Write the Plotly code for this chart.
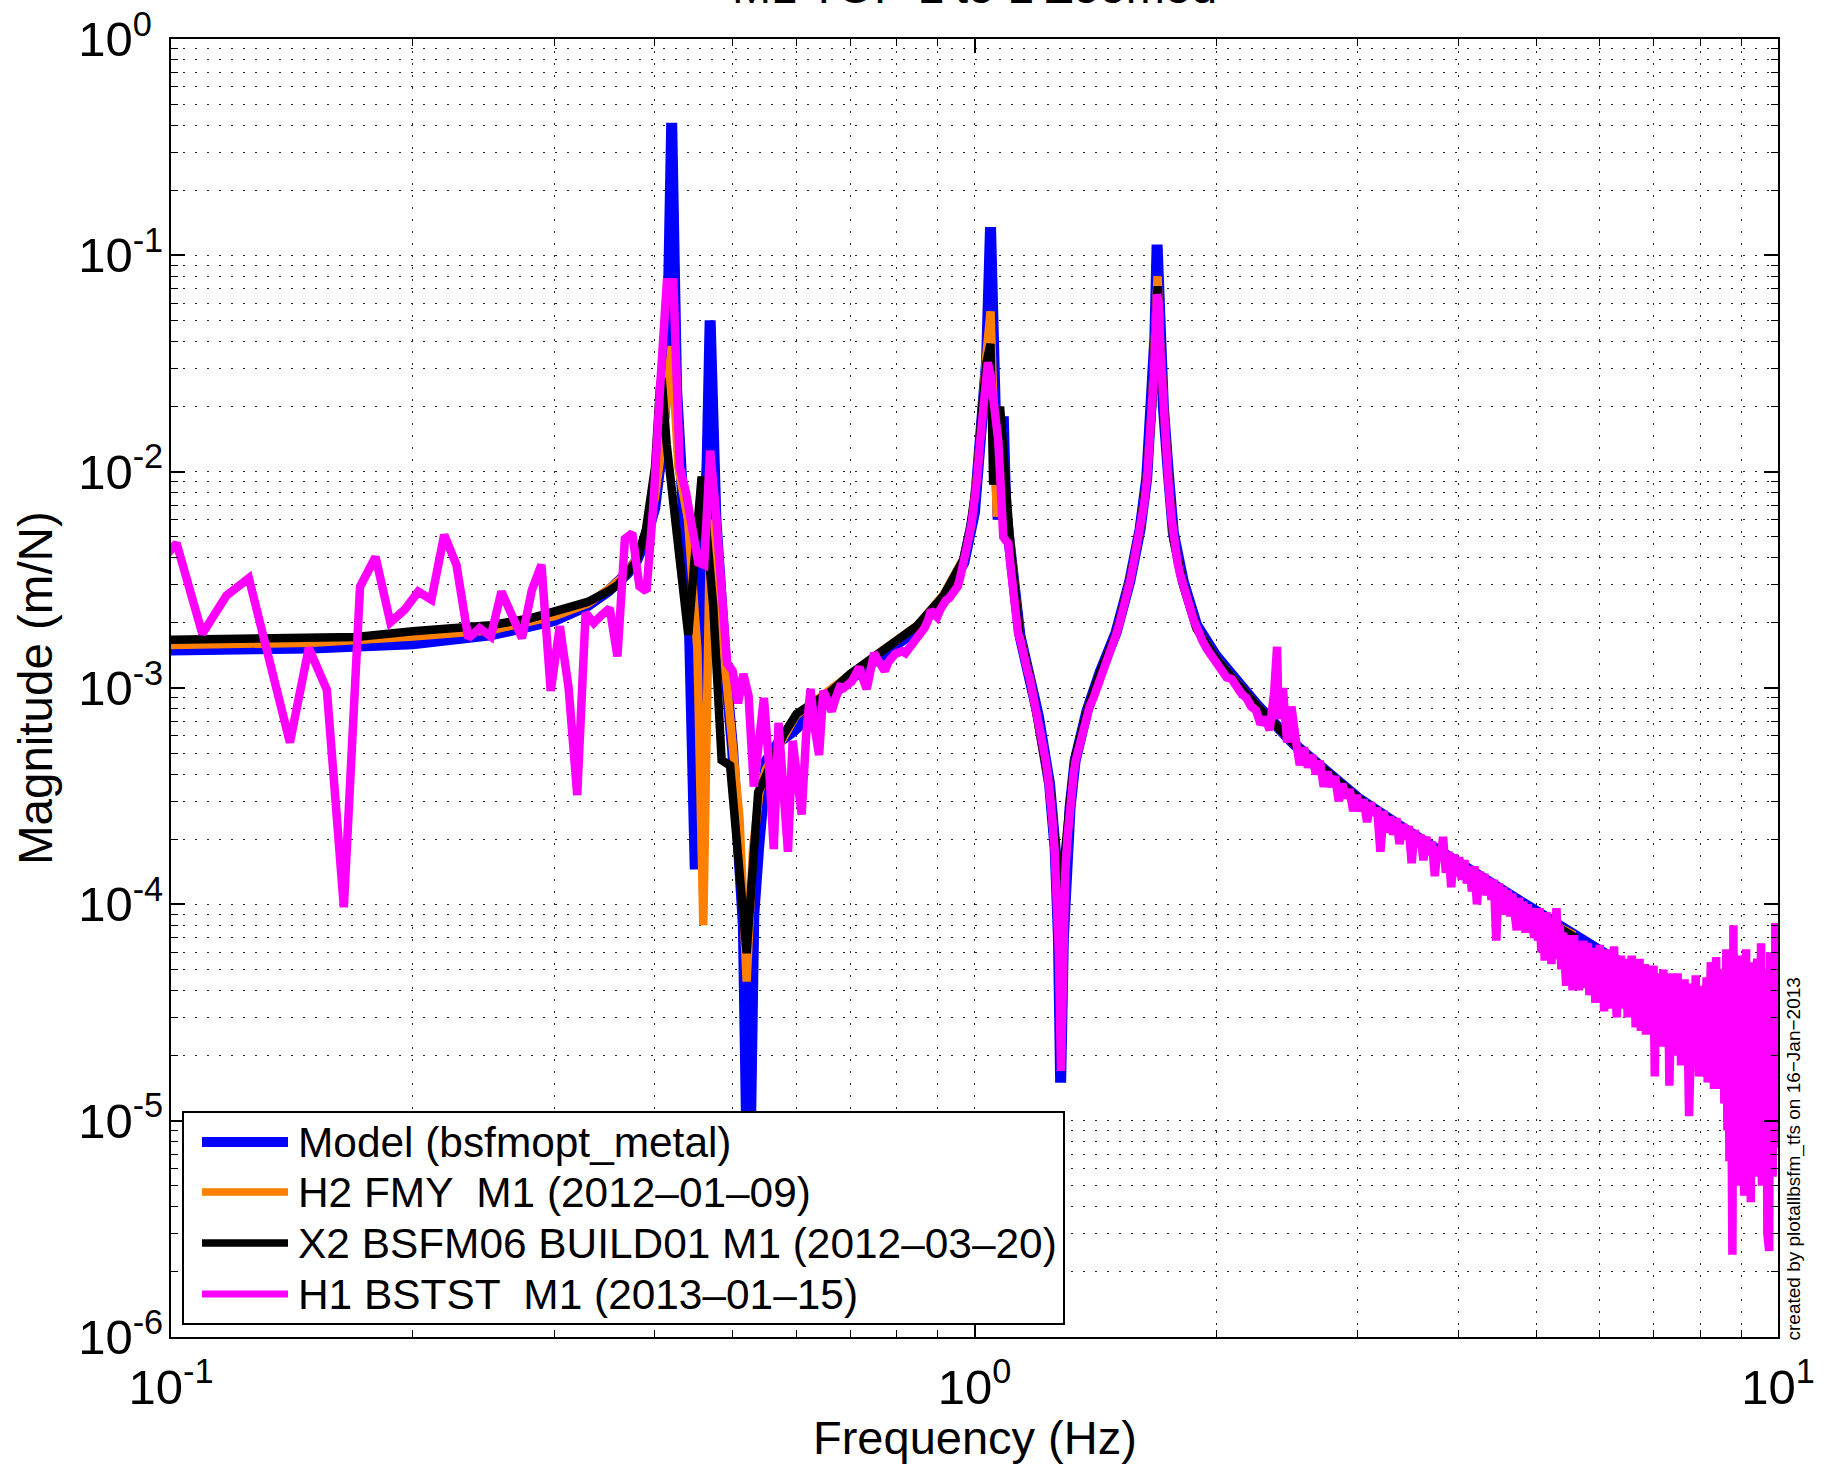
import plotly.graph_objects as go

# ---------------- data ----------------
model_freq = [0.1, 0.15, 0.2, 0.25, 0.3, 0.33, 0.35, 0.37, 0.38, 0.39, 0.40, 0.4063, 0.4141,
              0.4199, 0.4258, 0.4336, 0.4414, 0.4492, 0.457, 0.4648, 0.4688, 0.4766, 0.4844,
              0.4922, 0.5, 0.5078, 0.5156, 0.5234, 0.5313, 0.5391, 0.5508, 0.5703, 0.5948,
              0.65, 0.7, 0.77, 0.85, 0.915, 0.97, 1.0, 1.02, 1.035, 1.047, 1.055, 1.0625,
              1.07, 1.078, 1.086, 1.094, 1.107, 1.139, 1.172, 1.2, 1.24, 1.26, 1.272, 1.28,
              1.29, 1.3, 1.315, 1.334, 1.38, 1.433, 1.5, 1.56, 1.607, 1.638, 1.662, 1.677,
              1.6875, 1.702, 1.718, 1.743, 1.768, 1.819, 1.89, 2.0, 2.1, 2.25, 2.5, 2.75,
              3.0, 3.5, 4.0, 4.5, 5.0, 5.5, 6.0, 7.0, 8.0, 9.0, 10.0]
model_mag = [1.5e-3, 1.53e-3, 1.6e-3, 1.76e-3, 2.05e-3, 2.4e-3, 2.8e-3, 3.4e-3, 3.9e-3, 4.9e-3,
             6.8e-3, 1.1e-2, 2.6e-2, 0.41, 2.4e-2, 7e-3, 2.2e-3, 1.45e-4, 2.5e-3, 1.1e-2, 0.05,
             6e-3, 2.2e-3, 1.0e-3, 5.2e-4, 2.4e-4, 8e-5, 2.5e-6, 9e-5, 1.9e-4, 4.6e-4, 5.6e-4,
             6.3e-4, 8.6e-4, 1.1e-3, 1.43e-3, 1.88e-3, 2.6e-3, 3.8e-3, 6.5e-3, 1.5e-2, 3.2e-2,
             0.135, 2.5e-2, 8e-3, 6e-3, 9e-3, 1.8e-2, 6.5e-3, 4.6e-3, 1.75e-3, 1.1e-3, 7.5e-4,
             3.6e-4, 1.8e-4, 7e-5, 1.5e-5, 7e-5, 1.4e-4, 2.8e-4, 4.6e-4, 7.8e-4, 1.18e-3, 1.8e-3,
             3.1e-3, 5.4e-3, 9.3e-3, 0.019, 0.042, 0.112, 0.045, 0.02, 9.8e-3, 5.2e-3, 3.1e-3,
             1.95e-3, 1.4e-3, 1.12e-3, 8.3e-4, 5.5e-4, 4.0e-4, 3.1e-4, 2.12e-4, 1.56e-4, 1.18e-4,
             9.2e-5, 7.4e-5, 6.1e-5, 4.4e-5, 3.3e-5, 2.6e-5, 2.1e-5]

h2_freq = [0.1, 0.15, 0.2, 0.25, 0.3, 0.33, 0.35, 0.37, 0.38, 0.39, 0.40, 0.41, 0.4199, 0.428,
           0.44, 0.452, 0.4597, 0.469, 0.477, 0.49, 0.5, 0.51, 0.5205, 0.53, 0.54, 0.55, 0.6,
           0.66, 0.7, 0.77, 0.85, 0.915, 0.97, 0.99, 1.007, 1.021, 1.035, 1.047, 1.055, 1.066,
           1.08, 1.094, 1.107, 1.139, 1.172, 1.24, 1.265, 1.28, 1.295, 1.315, 1.334, 1.38,
           1.433, 1.503, 1.562, 1.607, 1.638, 1.662, 1.677, 1.69, 1.702, 1.718, 1.743, 1.768,
           1.819, 1.89, 2.0, 2.1, 2.25, 2.5, 3.0, 3.5, 4.0, 4.5, 5.0, 5.58]
h2_mag = [1.58e-3, 1.62e-3, 1.73e-3, 1.85e-3, 2.15e-3, 2.45e-3, 2.85e-3, 3.4e-3, 4.0e-3, 5.2e-3,
          7.5e-3, 1.5e-2, 0.038, 1.05e-2, 6e-3, 1.5e-3, 8e-5, 6e-3, 3.5e-3, 1.2e-3, 6e-4,
          2.5e-4, 4.4e-5, 1.8e-4, 3.3e-4, 4.2e-4, 7.5e-4, 9.8e-4, 1.18e-3, 1.5e-3, 1.95e-3,
          2.7e-3, 4.0e-3, 5.6e-3, 9.5e-3, 0.02, 0.035, 0.055, 0.02, 6.2e-3, 1.2e-2, 6.5e-3,
          4.8e-3, 1.75e-3, 1.12e-3, 3.5e-4, 1.5e-4, 6e-5, 1.5e-4, 2.9e-4, 4.7e-4, 7.8e-4,
          1.17e-3, 1.82e-3, 3.2e-3, 5.4e-3, 9.3e-3, 0.019, 0.04, 0.08, 0.039, 0.019, 9.3e-3,
          4.9e-3, 3.0e-3, 1.88e-3, 1.36e-3, 1.1e-3, 8.2e-4, 5.5e-4, 3.05e-4, 2.08e-4, 1.53e-4,
          1.15e-4, 8.9e-5, 7.2e-5]

x2_freq = [0.1, 0.12, 0.15, 0.17, 0.2, 0.25, 0.28, 0.3, 0.33, 0.35, 0.36, 0.37, 0.38, 0.39,
           0.3946, 0.4003, 0.406, 0.408, 0.414, 0.425, 0.4403, 0.4575, 0.465, 0.473, 0.4845,
           0.4964, 0.5205, 0.538, 0.5485, 0.578, 0.6006, 0.661, 0.7, 0.77, 0.847, 0.915, 0.968,
           0.987, 1.007, 1.021, 1.035, 1.047, 1.055, 1.076, 1.107, 1.139, 1.172, 1.24, 1.28,
           1.315, 1.334, 1.38, 1.433, 1.503, 1.562, 1.607, 1.638, 1.662, 1.677, 1.69, 1.702,
           1.718, 1.743, 1.768, 1.819, 1.89, 2.0, 2.1, 2.25, 2.5, 3.0, 3.5, 4.0, 4.5, 5.0, 5.6]
x2_mag = [1.67e-3, 1.7e-3, 1.73e-3, 1.72e-3, 1.83e-3, 1.95e-3, 2.1e-3, 2.26e-3, 2.5e-3, 2.8e-3,
          3.0e-3, 3.4e-3, 3.9e-3, 5.4e-3, 7.9e-3, 1.05e-2, 2.46e-2, 2.7e-2, 1.33e-2, 5.5e-3,
          1.76e-3, 9.5e-3, 5e-3, 2.38e-3, 4.64e-4, 4.38e-4, 5.95e-5, 3.3e-4, 3.83e-4, 6.06e-4,
          7.6e-4, 9.57e-4, 1.16e-3, 1.48e-3, 1.93e-3, 2.67e-3, 3.9e-3, 5.4e-3, 9.2e-3, 0.019,
          0.032, 0.039, 8.7e-3, 0.02, 4.83e-3, 1.75e-3, 1.12e-3, 3.5e-4, 1.1e-4, 3e-4, 4.8e-4,
          7.8e-4, 1.18e-3, 1.82e-3, 3.2e-3, 5.4e-3, 9.3e-3, 0.019, 0.04, 0.072, 0.038, 0.019,
          9.2e-3, 4.9e-3, 3.0e-3, 1.88e-3, 1.36e-3, 1.1e-3, 8.2e-4, 5.5e-4, 3.1e-4, 2.1e-4,
          1.55e-4, 1.17e-4, 9.0e-5, 7.0e-5]

h1_freq_low = [0.0938, 0.1016, 0.1094, 0.1172, 0.125, 0.1328, 0.1406, 0.1484, 0.1563, 0.1641,
               0.1719, 0.1797, 0.1875, 0.1953, 0.2031, 0.2109, 0.2188, 0.2266, 0.2344, 0.2422,
               0.25, 0.2578, 0.2656, 0.2734, 0.2813, 0.2891, 0.2969, 0.3047, 0.3125, 0.3203,
               0.3281, 0.3359, 0.3438, 0.3516, 0.3594, 0.3672, 0.375, 0.3828, 0.3906, 0.3984,
               0.4063, 0.4141, 0.4219, 0.4297, 0.4375, 0.4453, 0.4531, 0.4609, 0.4688, 0.4766,
               0.4844, 0.4922, 0.5, 0.5078, 0.5156, 0.5234, 0.5313, 0.5391, 0.5469, 0.5547,
               0.5625, 0.5703, 0.5781, 0.5859, 0.5938, 0.6016, 0.6094, 0.6172, 0.625, 0.6328,
               0.6406, 0.6484, 0.6563, 0.6641, 0.6719, 0.6797, 0.6875, 0.6953, 0.7031, 0.7109,
               0.7188, 0.7266, 0.7344, 0.7422, 0.75, 0.7578, 0.7656, 0.7734, 0.7813, 0.7891,
               0.7969, 0.8047, 0.8125, 0.8203, 0.8281, 0.8359, 0.8438, 0.8516, 0.8594, 0.8672,
               0.875, 0.8828, 0.8906, 0.8984, 0.9063, 0.9141, 0.9219, 0.9297, 0.9375, 0.9453,
               0.9531, 0.9609, 0.9688, 0.9766, 0.9844, 0.9922, 1.0, 1.0078, 1.0156, 1.0234,
               1.0313, 1.0391, 1.0469, 1.0547, 1.0625, 1.0703, 1.0781, 1.0859, 1.0938, 1.1016,
               1.1094, 1.1172, 1.125, 1.1328, 1.1406, 1.1484, 1.1563, 1.1641, 1.1719, 1.1797,
               1.1875, 1.1953, 1.2031, 1.2109, 1.2188, 1.2266, 1.2344, 1.2422, 1.25, 1.2578,
               1.2656, 1.2734, 1.2813, 1.2891, 1.2969, 1.3047, 1.3125, 1.3203, 1.3281, 1.3359,
               1.3438, 1.3516, 1.3594, 1.3672, 1.375, 1.3828, 1.3906, 1.4063, 1.4219, 1.4375,
               1.4531, 1.4688, 1.4844, 1.5, 1.5156, 1.5313, 1.5469, 1.5625, 1.5781, 1.5938,
               1.6094, 1.625, 1.6406, 1.6563, 1.6641, 1.6719, 1.6797, 1.6875, 1.6953, 1.7031,
               1.7109, 1.7188, 1.7266, 1.7344, 1.7422, 1.7578, 1.7734, 1.7891, 1.8047, 1.8203,
               1.8359, 1.8516, 1.875, 1.8984, 1.9219, 1.9453, 1.9688]
h1_mag_low = [3.3e-3, 4.67e-3, 1.78e-3, 2.67e-3, 3.22e-3, 1.3e-3, 5.6e-4, 1.53e-3, 9.8e-4, 9.7e-5,
              2.94e-3, 4.03e-3, 2.01e-3, 2.3e-3, 2.79e-3, 2.56e-3, 5.1e-3, 3.71e-3, 1.7e-3, 1.89e-3,
              1.73e-3, 2.79e-3, 2.22e-3, 1.7e-3, 2.84e-3, 3.71e-3, 9.7e-4, 1.93e-3, 1.0e-3, 3.2e-4,
              2.22e-3, 2.0e-3, 2.18e-3, 2.34e-3, 1.4e-3, 4.89e-3, 5.2e-3, 2.95e-3, 2.8e-3, 7.0e-3,
              2.5e-2, 7.5e-2, 7.5e-2, 1.05e-2, 8.0e-3, 5.5e-3, 3.8e-3, 3.7e-3, 1.25e-2, 6.5e-3,
              2.5e-3, 1.3e-3, 1.2e-3, 8.5e-4, 1.16e-3, 9.2e-4, 3.5e-4, 6.0e-4, 9.0e-4, 4.5e-4,
              1.8e-4, 6.9e-4, 3.5e-4, 1.75e-4, 5.7e-4, 4.0e-4, 2.6e-4, 6.0e-4, 9.9e-4, 6.5e-4,
              4.9e-4, 9.7e-4, 8.5e-4, 7.8e-4, 9.0e-4, 1.01e-3, 1.0e-3, 1.03e-3, 1.07e-3, 1.15e-3,
              1.25e-3, 1.1e-3, 9.9e-4, 1.2e-3, 1.45e-3, 1.35e-3, 1.25e-3, 1.2e-3, 1.32e-3, 1.4e-3,
              1.44e-3, 1.46e-3, 1.48e-3, 1.45e-3, 1.52e-3, 1.57e-3, 1.62e-3, 1.72e-3, 1.8e-3, 1.9e-3,
              2.05e-3, 2.29e-3, 2.2e-3, 2.13e-3, 2.3e-3, 2.45e-3, 2.55e-3, 2.6e-3, 2.7e-3, 2.82e-3,
              2.95e-3, 3.3e-3, 3.7e-3, 4.1e-3, 5.0e-3, 5.9e-3, 7.2e-3, 9.3e-3, 1.35e-2, 1.95e-2,
              2.8e-2, 3.2e-2, 2.8e-2, 2.2e-2, 1.9e-2, 1.4e-2, 8.5e-3, 5.0e-3, 4.8e-3, 4.66e-3,
              3.6e-3, 2.7e-3, 2.1e-3, 1.8e-3, 1.66e-3, 1.45e-3, 1.3e-3, 1.2e-3, 1.1e-3, 9.8e-4,
              8.7e-4, 7.8e-4, 6.9e-4, 6.2e-4, 5.3e-4, 4.6e-4, 3.9e-4, 3.3e-4, 2.5e-4, 1.8e-4,
              1.2e-4, 6.0e-5, 1.7e-5, 7.0e-5, 1.4e-4, 2.0e-4, 2.7e-4, 3.3e-4, 4.0e-4, 4.6e-4,
              5.0e-4, 5.5e-4, 6.0e-4, 6.6e-4, 7.2e-4, 7.7e-4, 8.2e-4, 9.0e-4, 1.0e-3, 1.12e-3,
              1.25e-3, 1.4e-3, 1.58e-3, 1.76e-3, 2.0e-3, 2.3e-3, 2.7e-3, 3.15e-3, 3.8e-3, 4.6e-3,
              5.6e-3, 7.0e-3, 9.5e-3, 1.5e-2, 2.0e-2, 2.8e-2, 4.4e-2, 6.6e-2, 6.0e-2, 3.7e-2,
              2.6e-2, 1.9e-2, 1.45e-2, 1.15e-2, 9.2e-3, 6.2e-3, 4.5e-3, 3.8e-3, 3.3e-3, 2.9e-3,
              2.6e-3, 2.4e-3, 2.05e-3, 1.8e-3, 1.65e-3, 1.52e-3, 1.42e-3]

# H1 BSTST above 2 Hz, as (frequency, magnitude) pairs
h1_high_points = [
    (2.00, 1.30e-3), (2.03, 1.24e-3), (2.06, 1.12e-3), (2.09, 1.10e-3), (2.12, 1.00e-3),
    (2.15, 9.4e-4), (2.18, 9.0e-4), (2.21, 8.2e-4), (2.24, 7.9e-4), (2.27, 6.8e-4),
    (2.30, 7.3e-4), (2.33, 6.4e-4), (2.36, 9.5e-4), (2.38, 1.55e-3), (2.39, 7.2e-4),
    (2.42, 1.0e-3), (2.45, 5.6e-4), (2.48, 8.2e-4), (2.51, 5.8e-4), (2.54, 4.4e-4),
    (2.57, 5.3e-4), (2.60, 4.3e-4), (2.63, 4.9e-4), (2.66, 4.0e-4), (2.69, 4.6e-4),
    (2.72, 3.5e-4), (2.75, 4.1e-4), (2.78, 3.5e-4), (2.81, 3.9e-4), (2.84, 3.0e-4),
    (2.87, 3.6e-4), (2.90, 3.1e-4), (2.93, 3.4e-4), (2.96, 2.7e-4), (2.99, 3.2e-4),
    (3.02, 2.7e-4), (3.05, 3.05e-4), (3.08, 2.4e-4), (3.11, 2.95e-4), (3.14, 2.6e-4),
    (3.17, 2.8e-4), (3.20, 1.75e-4), (3.23, 2.7e-4), (3.26, 2.15e-4), (3.29, 2.55e-4),
    (3.32, 2.1e-4), (3.35, 2.5e-4), (3.38, 1.9e-4), (3.41, 2.35e-4), (3.44, 2.0e-4),
    (3.47, 2.3e-4), (3.50, 1.55e-4), (3.53, 2.2e-4), (3.56, 1.85e-4), (3.59, 2.1e-4),
    (3.62, 1.6e-4), (3.65, 2.05e-4), (3.68, 1.7e-4), (3.71, 1.95e-4), (3.74, 1.35e-4),
    (3.77, 1.85e-4), (3.80, 1.6e-4), (3.83, 2.05e-4), (3.86, 1.4e-4), (3.89, 1.75e-4),
    (3.92, 1.2e-4), (3.95, 1.7e-4), (3.98, 1.35e-4), (4.01, 1.65e-4), (4.04, 1.3e-4),
    (4.07, 1.6e-4), (4.10, 1.25e-4), (4.13, 1.5e-4), (4.16, 1.15e-4), (4.19, 1.5e-4),
    (4.22, 1.0e-4), (4.25, 1.42e-4), (4.28, 1.12e-4), (4.31, 1.38e-4), (4.34, 1.1e-4),
    (4.37, 1.32e-4), (4.40, 1.05e-4), (4.43, 1.3e-4), (4.46, 6.8e-5), (4.49, 1.25e-4),
    (4.52, 1.0e-4), (4.55, 1.2e-4), (4.58, 9.0e-5), (4.61, 1.16e-4), (4.64, 8.8e-5),
    (4.67, 1.12e-4), (4.70, 8.6e-5), (4.73, 7.6e-5), (4.76, 1.07e-4), (4.79, 8.4e-5),
    (4.82, 1.03e-4), (4.85, 7.4e-5), (4.88, 1.0e-4), (4.91, 7.8e-5), (4.94, 9.6e-5),
    (4.97, 7.0e-5), (5.00, 9.2e-5),
    (5.025, 6.8e-5), (5.05, 9.6e-5), (5.075, 6.0e-5), (5.10, 8.8e-5), (5.125, 5.5e-5),
    (5.15, 9.2e-5), (5.175, 6.6e-5), (5.20, 8.2e-5), (5.225, 5.3e-5), (5.25, 8.6e-5),
    (5.275, 6.2e-5), (5.30, 9.6e-5), (5.325, 5.6e-5), (5.35, 8.0e-5), (5.375, 5.0e-5),
    (5.40, 7.4e-5), (5.425, 5.8e-5), (5.45, 4.2e-5), (5.475, 7.2e-5), (5.50, 4.8e-5),
    (5.525, 6.8e-5), (5.55, 4.0e-5), (5.575, 7.2e-5), (5.60, 5.2e-5), (5.625, 6.6e-5),
    (5.65, 4.0e-5), (5.675, 6.2e-5), (5.70, 4.4e-5), (5.725, 6.8e-5), (5.75, 4.1e-5),
    (5.775, 6.0e-5), (5.80, 6.6e-5), (5.825, 3.8e-5), (5.85, 5.8e-5), (5.875, 4.3e-5),
    (5.90, 6.3e-5), (5.925, 3.5e-5), (5.95, 5.6e-5), (5.975, 4.0e-5), (6.00, 6.5e-5),
    (6.025, 4.2e-5), (6.05, 5.8e-5), (6.075, 3.2e-5), (6.10, 5.4e-5), (6.125, 3.8e-5),
    (6.15, 6.2e-5), (6.175, 3.3e-5), (6.20, 5.2e-5), (6.225, 3.6e-5), (6.25, 6.4e-5),
    (6.275, 4.0e-5), (6.30, 3.0e-5), (6.325, 5.4e-5), (6.35, 3.7e-5), (6.375, 5.8e-5),
    (6.40, 3.3e-5), (6.425, 5.0e-5), (6.45, 3.5e-5), (6.475, 5.6e-5), (6.50, 3.0e-5),
    (6.525, 4.9e-5), (6.55, 3.4e-5), (6.575, 5.8e-5), (6.60, 3.2e-5), (6.625, 4.7e-5),
    (6.65, 2.7e-5), (6.675, 5.2e-5), (6.70, 3.3e-5), (6.725, 5.6e-5), (6.75, 2.6e-5),
    (6.775, 4.6e-5), (6.80, 3.1e-5), (6.825, 5.3e-5), (6.85, 2.5e-5), (6.875, 4.4e-5),
    (6.90, 3.0e-5), (6.925, 5.0e-5), (6.95, 2.7e-5), (6.975, 4.6e-5),
    (7.00, 5.2e-5), (7.025, 1.6e-5), (7.05, 4.2e-5), (7.075, 2.6e-5), (7.10, 4.8e-5),
    (7.125, 2.2e-5), (7.15, 3.9e-5), (7.175, 2.8e-5), (7.20, 5.0e-5), (7.225, 2.2e-5),
    (7.25, 3.8e-5), (7.275, 2.5e-5), (7.30, 4.5e-5), (7.325, 1.45e-5), (7.35, 3.6e-5),
    (7.375, 4.8e-5), (7.40, 2.3e-5), (7.425, 3.9e-5), (7.45, 2.0e-5), (7.475, 3.6e-5),
    (7.50, 4.8e-5), (7.525, 2.2e-5), (7.55, 3.5e-5), (7.575, 1.8e-5), (7.60, 4.0e-5),
    (7.625, 2.4e-5), (7.65, 4.5e-5), (7.675, 1.9e-5), (7.70, 3.4e-5), (7.725, 2.2e-5),
    (7.75, 1.05e-5), (7.775, 3.6e-5), (7.80, 2.0e-5), (7.825, 4.3e-5), (7.85, 1.8e-5),
    (7.875, 3.3e-5), (7.90, 4.7e-5), (7.925, 1.9e-5), (7.95, 3.2e-5), (7.975, 1.6e-5),
    (8.00, 3.8e-5), (8.025, 2.1e-5), (8.05, 4.2e-5), (8.075, 1.6e-5), (8.10, 3.1e-5),
    (8.125, 1.9e-5), (8.15, 4.6e-5), (8.175, 1.5e-5), (8.20, 3.2e-5), (8.225, 2.0e-5),
    (8.25, 5.4e-5), (8.275, 1.7e-5), (8.30, 3.4e-5), (8.325, 1.4e-5), (8.35, 3.0e-5),
    (8.375, 5.7e-5), (8.40, 1.8e-5), (8.425, 3.6e-5), (8.45, 1.4e-5), (8.475, 2.9e-5),
    (8.50, 5.0e-5), (8.525, 1.6e-5), (8.55, 3.3e-5), (8.575, 1.2e-5), (8.60, 2.7e-5),
    (8.625, 6.2e-5), (8.65, 9.0e-6), (8.675, 3.8e-5), (8.70, 6.5e-6), (8.725, 4.6e-5),
    (8.75, 1.3e-5), (8.775, 2.4e-6), (8.80, 8.0e-5), (8.825, 8.0e-6), (8.85, 3.5e-5),
    (8.875, 5.5e-6), (8.90, 5.0e-5), (8.925, 1.2e-5), (8.95, 3.0e-5), (8.975, 5.0e-6),
    (9.00, 5.8e-5), (9.025, 9.0e-6), (9.05, 3.8e-5), (9.075, 4.5e-6), (9.10, 2.8e-5),
    (9.125, 6.2e-5), (9.15, 7.0e-6), (9.175, 4.4e-5), (9.20, 1.1e-5), (9.225, 2.4e-5),
    (9.25, 4.2e-6), (9.275, 5.4e-5), (9.30, 8.0e-6), (9.325, 3.2e-5), (9.35, 5.5e-6),
    (9.375, 4.6e-5), (9.40, 1.3e-5), (9.425, 5.6e-5), (9.45, 6.5e-6), (9.475, 3.0e-5),
    (9.50, 1.0e-5), (9.525, 6.6e-5), (9.55, 5.0e-6), (9.575, 3.6e-5), (9.60, 1.2e-5),
    (9.625, 5.0e-5), (9.65, 6.0e-6), (9.675, 2.8e-5), (9.70, 3.0e-6), (9.725, 4.0e-5),
    (9.75, 2.5e-6), (9.775, 6.0e-5), (9.80, 9.0e-6), (9.825, 3.4e-5), (9.85, 5.5e-6),
    (9.875, 4.8e-5), (9.90, 1.1e-5), (9.925, 8.2e-5), (9.95, 7.5e-6), (9.975, 3.8e-5),
    (10.0, 2.0e-5), (10.02, 5.0e-5),
]
h1_freq_high = [p[0] for p in h1_high_points]
h1_mag_high = [p[1] for p in h1_high_points]

series_names = ["Model (bsfmopt_metal)", "H2 FMY  M1 (2012\u201201\u201209)",
                "X2 BSFM06 BUILD01 M1 (2012\u201203\u201220)", "H1 BSTST  M1 (2013\u201201\u201215)"]
series_colors = ["#0000ff", "#ff8000", "#000000", "#ff00ff"]
series_widths = [11, 8.5, 8.5, 8.5]
legend_widths = [10, 7.5, 7.5, 7]

title_text = "M1 TOP L to L Zoomed"
x_label = "Frequency (Hz)"
y_label = "Magnitude (m/N)"
stamp_text = "created by plotallbsfm_tfs on 16\u2212Jan\u22122013"

x_major = [0.1, 1, 10]
x_major_text = ["10<sup>-1</sup>", "10<sup>0</sup>", "10<sup>1</sup>"]
x_minor = [0.2, 0.3, 0.4, 0.5, 0.6, 0.7, 0.8, 0.9, 2, 3, 4, 5, 6, 7, 8, 9]
y_major = [1e-6, 1e-5, 1e-4, 1e-3, 1e-2, 1e-1, 1]
y_exponents = ["-6", "-5", "-4", "-3", "-2", "-1", "0"]
y_minor = [m * 10.0 ** e for e in range(-6, 0) for m in (2, 3, 4, 5, 6, 7, 8, 9)]

# ---------------- figure ----------------
W, H = 1829, 1466
L, R, T, B = 171, 51, 39, 129
PW, PH = W - L - R, H - T - B
FONT = "Liberation Sans, Arial, Helvetica, sans-serif"
HIDE = "<span style='color:rgba(0,0,0,0)'>-</span>"

def px_x(px):
    return (px - L) / PW

def px_y(py):
    return (H - B - py) / PH

# y labels: the "10" of every label lines up, as in the reference
y_major_text = ["10<sup>" + e + ("" if e.startswith("-") else HIDE) + "</sup>" for e in y_exponents]

fig = go.Figure()
all_x = [model_freq, h2_freq, x2_freq, h1_freq_low + h1_freq_high]
all_y = [model_mag, h2_mag, x2_mag, h1_mag_low + h1_mag_high]
for xs, ys, name, col, w in zip(all_x, all_y, series_names, series_colors, series_widths):
    fig.add_trace(go.Scatter(x=xs, y=ys, mode="lines", name=name,
                             line=dict(color=col, width=w), showlegend=False))

grid_dash = "2px,10px"
axis_common = dict(type="log", showline=True, linecolor="black", linewidth=2, mirror="allticks",
                   ticks="inside", ticklen=14, tickwidth=1.5, tickcolor="black",
                   showgrid=True, gridcolor="#222", gridwidth=1, griddash=grid_dash,
                   zeroline=False, tickfont=dict(family=FONT, size=49, color="black"))
fig.update_xaxes(range=[-1, 1], tickmode="array", tickvals=x_major, ticktext=x_major_text,
                 ticklabelstandoff=6,
                 minor=dict(tickvals=x_minor, ticks="inside", ticklen=7, tickwidth=1.2,
                            tickcolor="black", showgrid=True, gridcolor="#222", gridwidth=1,
                            griddash=grid_dash),
                 **axis_common)
fig.update_yaxes(range=[-6, 0], tickmode="array", tickvals=y_major, ticktext=y_major_text,
                 ticklabelstandoff=-4,
                 minor=dict(tickvals=y_minor, ticks="inside", ticklen=7, tickwidth=1.2,
                            tickcolor="black", showgrid=True, gridcolor="#222", gridwidth=1,
                            griddash=grid_dash),
                 **axis_common)

annotations = [
    dict(text=title_text, x=0.5, y=1, xref="paper", yref="paper", xanchor="center",
         yanchor="bottom", yshift=24, showarrow=False,
         font=dict(family=FONT, size=47, color="black")),
    dict(text=x_label, x=0.5, y=0, xref="paper", yref="paper", xanchor="center",
         yanchor="middle", yshift=-(1437 - (H - B)), showarrow=False,
         font=dict(family=FONT, size=47, color="black")),
    dict(text=y_label, x=0, y=0.5, xref="paper", yref="paper", xanchor="center",
         yanchor="middle", xshift=-(L - 35), textangle=-90, showarrow=False,
         font=dict(family=FONT, size=47.5, color="black")),
    dict(text=stamp_text, x=1, y=0, xref="paper", yref="paper", xanchor="left",
         yanchor="bottom", xshift=2, yshift=-6, textangle=-90, showarrow=False,
         font=dict(family=FONT, size=19, color="black")),
]

# legend drawn by hand (box, line samples, labels)
shapes = [dict(type="rect", xref="paper", yref="paper", x0=px_x(183), x1=px_x(1064),
               y0=px_y(1324), y1=px_y(1112), line=dict(color="black", width=2),
               fillcolor="white", layer="above")]
row_y = [1142, 1192, 1243, 1294]
for ry, name, col, w in zip(row_y, series_names, series_colors, legend_widths):
    shapes.append(dict(type="line", xref="paper", yref="paper", x0=px_x(202), x1=px_x(288),
                       y0=px_y(ry), y1=px_y(ry), line=dict(color=col, width=w), layer="above"))
    annotations.append(dict(text=name, x=px_x(296), y=px_y(ry), xref="paper", yref="paper",
                            xanchor="left", yanchor="middle", showarrow=False,
                            font=dict(family=FONT, size=42.4, color="black")))

fig.update_layout(width=W, height=H, margin=dict(l=L, r=R, t=T, b=B, autoexpand=False),
                  plot_bgcolor="white", paper_bgcolor="white", showlegend=False,
                  annotations=annotations, shapes=shapes)

fig.write_html("out.html", config={"displayModeBar": False},
               post_script="document.body.style.margin='0';document.body.style.overflow='hidden';")
